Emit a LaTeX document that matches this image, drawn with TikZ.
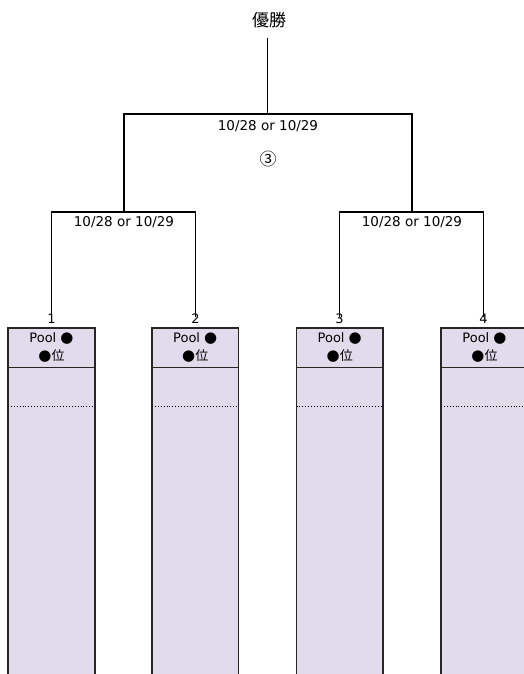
\documentclass[tikz,border=0pt]{standalone}
\usepackage{fontspec}
\setmainfont{DejaVu Sans}
\newfontfamily\cjk{Noto Sans CJK JP}
\definecolor{poolfill}{HTML}{E0DCEC}
\begin{document}
\begin{tikzpicture}[x=1pt,y=-1pt,
  line/.style={draw=black,line width=1.4pt},
  lbl/.style={inner sep=0pt,font=\fontsize{13.5}{15}\selectfont},
  num/.style={inner sep=0pt,font=\fontsize{13}{14}\selectfont},
  pool/.style={inner sep=0pt,align=center,font=\fontsize{13}{17.5}\selectfont},
  border/.style={draw=black!85,line width=1.4pt},
  dots/.style={draw=black,line width=0.9pt,dotted}]
\useasboundingbox (0,0) rectangle (523,674);
% champion
\node[inner sep=0pt,font=\cjk\fontsize{17}{19}\selectfont] (champ) at (269,20) {優勝};
\coordinate (ctop) at (267.5,38);
\coordinate (cjoin) at (267.5,114);
\coordinate (fl) at (124,114);
\coordinate (fr) at (412,114);
\coordinate (sl) at (124,212);
\coordinate (sr) at (412,212);
\coordinate (l1) at (51.5,212);
\coordinate (l2) at (195.5,212);
\coordinate (r3) at (339.5,212);
\coordinate (r4) at (483.5,212);
% labels
\node[lbl] (dfinal) at (268,126) {10/28 or 10/29};
\node[inner sep=0pt,font=\cjk\fontsize{17}{19}\selectfont] (mark) at (268,159) {③};
\node[lbl] (dleft) at (124,222) {10/28 or 10/29};
\node[lbl] (dright) at (412,222) {10/28 or 10/29};
% numbers
\node[num] (n1) at (51.5,319) {1};
\node[num] (n2) at (195.5,319) {2};
\node[num] (n3) at (339.5,319) {3};
\node[num] (n4) at (483.5,319) {4};
% bracket lines
\draw[line] ([yshift=-3pt]n1.north) -- (l1) -- (l2) -- ([yshift=-3pt]n2.north);
\draw[line] ([yshift=-3pt]n3.north) -- (r3) -- (r4) -- ([yshift=-3pt]n4.north);
\draw[line] (ctop) -- (cjoin);
\draw[line] (sl) -- (fl) -- (fr) -- (sr);
% pool columns
\foreach \i/\a/\b in {1/8/95, 2/152/238.5, 3/296.5/383, 4/441/528}{
  \fill[poolfill] (\a,328) rectangle (\b,674);
  \draw[border] (\a,674) -- (\a,328) -- (\b,328) -- (\b,674);
  \draw[border,line width=1pt] (\a,367) -- (\b,367);
  \draw[dots] (\a,406) -- (\b,406);
  \node[pool] (p\i) at ({(\a+\b)/2},347.5) {Pool {\fontsize{15}{17}\selectfont●}\\{\fontsize{15}{17}\selectfont●}{\cjk 位}};
}
\end{tikzpicture}
\end{document}
